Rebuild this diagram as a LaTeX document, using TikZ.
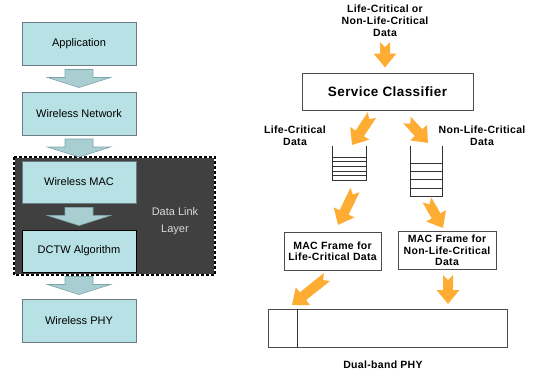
\documentclass[tikz,border=0pt]{standalone}
\usepackage{fontspec}
\setmainfont{Liberation Sans}
\newfontfamily\widebold[LetterSpace=3]{Liberation Sans}
\usetikzlibrary{arrows.meta,calc}
\definecolor{layerfill}{RGB}{183,225,228}
\definecolor{layeredge}{RGB}{105,125,130}
\definecolor{arrowfill}{RGB}{168,206,210}
\definecolor{arrowedge}{RGB}{125,165,170}
\definecolor{dllfill}{RGB}{64,64,64}
\definecolor{flow}{RGB}{255,172,51}
\tikzset{
  layer/.style={draw=layeredge, fill=layerfill, line width=0.8pt, minimum width=114pt, minimum height=43pt, font=\fontsize{11}{13}\selectfont},
  blockar/.style={fill=arrowfill, draw=arrowedge, line width=0.6pt},
  blockarrow/.pic={\draw[blockar] (-14,-9) -- (14,-9) -- (14,-1) -- (31.5,-1) -- (0,9) -- (-31.5,-1) -- (-14,-1) -- cycle;},
  tagtext/.style={align=center, inner sep=0pt, font=\widebold\bfseries\fontsize{10.5}{12}\selectfont},
  frame/.style={draw=black!70, line width=1pt, fill=white, align=center, font=\widebold\bfseries\fontsize{10.5}{11.5}\selectfont},
  queue/.style={inner sep=0pt},
  qline/.style={draw=black!80, line width=1pt},
  orarrow/.style={draw=flow, line width=10pt, arrows={Triangle Cap[reversed]-Triangle[width=22pt,length=14pt]}}
}

\begin{document}
\begin{tikzpicture}[x=1pt, y=-1pt]
\useasboundingbox (0,0) rectangle (533,376);
% Protocol stack
    \node[layer] (app) at (79,43.5) {Application};
    \node[layer] (net) at (79,113.5) {Wireless Network};
    \fill[dllfill] (14,157) rectangle (215,275);
    \draw[white, line width=1.2pt] (14,157) rectangle (215,275);
    \draw[black, line width=1.2pt, dash pattern=on 3pt off 2pt] (14,157) rectangle (215,275);
    \node[layer, minimum height=42pt] (mac) at (79,182) {Wireless MAC};
    \node[layer, draw=black, minimum height=42pt] (dctw) at (79,251) {DCTW Algorithm};
    \node[layer] (wphy) at (79,320.5) {Wireless PHY};
    \node[align=center, text=white!85!black, font=\fontsize{11}{17}\selectfont] (dll) at (175,221) {Data Link\\Layer};
    \pic at ($(app.south)!0.5!(net.north)$) {blockarrow};
    \pic at ($(net.south)!0.5!(mac.north)$) {blockarrow};
    \pic at ($(mac.south)!0.5!(dctw.north)$) {blockarrow};
    \pic at ($(dctw.south)!0.5!(wphy.north)$) {blockarrow};
% Classifier and queues
    \node[tagtext] (input) at (385,21) {Life-Critical or\\Non-Life-Critical\\Data};
    \node[frame, minimum width=171pt, minimum height=37pt, font=\widebold\bfseries\fontsize{13.5}{15}\selectfont] (classifier) at (387.5,91.5) {Service Classifier};
    \node[tagtext] (lctag) at (295,135.5) {Life-Critical\\Data};
    \node[tagtext] (nlctag) at (482,135.5) {Non-Life-Critical\\Data};
    \node[queue, minimum width=33pt, minimum height=34pt] (lq) at (349.5,163) {};
    \node[queue, minimum width=31pt, minimum height=50pt] (rq) at (426.5,171) {};
    \draw[qline] (lq.north west) -- (lq.south west) -- (lq.south east) -- (lq.north east);
    \foreach \k in {1,...,5}
        \draw[qline] ([yshift=\k*4.6pt]lq.south west) -- ([yshift=\k*4.6pt]lq.south east);
    \draw[qline] (rq.north west) -- (rq.south west) -- (rq.south east) -- (rq.north east);
    \foreach \k in {1,...,4}
        \draw[qline] ([yshift=\k*8.2pt]rq.south west) -- ([yshift=\k*8.2pt]rq.south east);
% MAC frames and PHY
    \node[frame, minimum width=97pt, minimum height=38pt] (lmac) at (332.5,251) {MAC Frame for\\Life-Critical Data};
    \node[frame, minimum width=98pt, minimum height=37pt] (rmac) at (447,250.5) {MAC Frame for\\Non-Life-Critical\\Data};
    \node[frame, minimum width=239pt, minimum height=38pt] (dual) at (387.5,328) {};
    \draw[qline] ([xshift=30pt]dual.north west) -- ([xshift=30pt]dual.south west);
    \node[tagtext] (dualtag) at (383,365) {Dual-band PHY};
% Flow arrows
    \coordinate (c1) at (372,115);
    \coordinate (c2) at (352,145);
    \coordinate (c3) at (407,120);
    \coordinate (c4) at (428,143);
    \coordinate (c5) at (355,190);
    \coordinate (c6) at (338,225);
    \coordinate (c7) at (427,200);
    \coordinate (c8) at (443,228);
    \coordinate (c9) at (327,277);
    \coordinate (c10) at (292,305);
    \coordinate (c11) at (448,275);
    \coordinate (c12) at (448,304);
    \draw[orarrow, shorten <=5pt, shorten >=5pt] (input.south) -- (input.south |- classifier.north);
    \draw[orarrow] (c1) -- (c2);
    \draw[orarrow] (c3) -- (c4);
    \draw[orarrow] (c5) -- (c6);
    \draw[orarrow] (c7) -- (c8);
    \draw[orarrow] (c9) -- (c10);
    \draw[orarrow] (c11) -- (c12);
\end{tikzpicture}
\end{document}
